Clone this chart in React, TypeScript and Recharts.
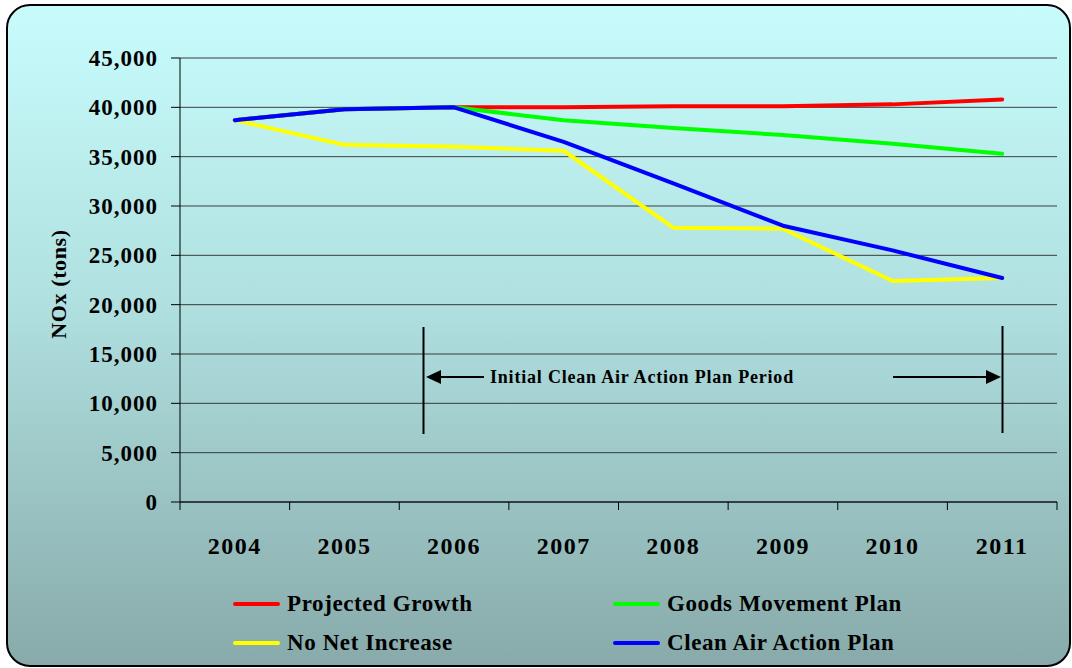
import React from "react";
import { LineChart, Line, XAxis, YAxis, CartesianGrid, Legend } from "recharts";

const years = ["2004", "2005", "2006", "2007", "2008", "2009", "2010", "2011"];
const projectedGrowth = [38700, 39800, 40000, 40000, 40100, 40100, 40300, 40800];
const goodsMovement = [38700, 39800, 40000, 38700, 37900, 37200, 36300, 35300];
const noNetIncrease = [38700, 36200, 36000, 35600, 27800, 27700, 22400, 22700];
const cleanAirAction = [38700, 39800, 40000, 36500, 32300, 28000, 25500, 22700];
const yTicks = [0, 5000, 10000, 15000, 20000, 25000, 30000, 35000, 40000, 45000];

const seriesList = [
  { key: "pg", name: "Projected Growth", color: "#FF0000" },
  { key: "gm", name: "Goods Movement Plan", color: "#00FF00" },
  { key: "nni", name: "No Net Increase", color: "#FFFF00" },
  { key: "caap", name: "Clean Air Action Plan", color: "#0000FF" },
];

const rows = years.map((y, i) => ({
  year: y,
  pg: projectedGrowth[i],
  gm: goodsMovement[i],
  nni: noNetIncrease[i],
  caap: cleanAirAction[i],
}));

const FONT = "'Liberation Serif', 'DejaVu Serif', serif";
const W = 1072;
const H = 668;
// plot area
const PLOT_LEFT = 180;
const PLOT_RIGHT = 1057;
const PLOT_TOP = 58;
const PLOT_BOTTOM = 502;
const BAND = (PLOT_RIGHT - PLOT_LEFT) / years.length;

const fmt = (v: number) => v.toLocaleString("en-US");

// category ticks: label at the center, tick marks between categories
const XTick = (props: any) => {
  const { x, payload, index } = props;
  return (
    <g>
      <line x1={x - BAND / 2} x2={x - BAND / 2} y1={PLOT_BOTTOM} y2={PLOT_BOTTOM + 8} stroke="#000" />
      {index === years.length - 1 && (
        <line x1={x + BAND / 2} x2={x + BAND / 2} y1={PLOT_BOTTOM} y2={PLOT_BOTTOM + 8} stroke="#000" />
      )}
      <text
        x={x}
        y={PLOT_BOTTOM + 52}
        textAnchor="middle"
        fontSize={24}
        letterSpacing={1.5}
        fontWeight="bold"
        fontFamily={FONT}
        fill="#000"
      >
        {payload.value}
      </text>
    </g>
  );
};

// keep the series order (Excel style), not alphabetical
const renderLegend = (props: any) => {
  const { payload } = props;
  const ordered = seriesList
    .map((s) => payload.find((p: any) => p.value === s.name))
    .filter(Boolean);
  return (
    <div style={{ display: "grid", gridTemplateColumns: "380px 380px", rowGap: 13, fontFamily: FONT }}>
      {ordered.map((p: any) => (
        <div key={p.value} style={{ display: "flex", alignItems: "center", height: 26 }}>
          <span style={{ display: "inline-block", width: 47, height: 4, borderRadius: 2, background: p.color, marginRight: 7 }} />
          <span style={{ fontSize: 23, letterSpacing: 0.6, fontWeight: "bold", color: "#000" }}>{p.value}</span>
        </div>
      ))}
    </div>
  );
};

export default function App() {
  return (
    <div style={{ position: "absolute", left: 0, top: 0, width: W, height: H, background: "#fff" }}>
      <div
        style={{
          position: "absolute",
          left: 6,
          top: 4,
          width: 1061,
          height: 659,
          border: "2px solid #000",
          borderRadius: 24,
          background: "linear-gradient(to bottom, #C8FCFC 0%, #B0E0E0 45%, #88AAAA 100%)",
        }}
      />
      <div style={{ position: "absolute", left: 0, top: 0 }}>
        <LineChart
          width={W}
          height={H}
          data={rows}
          margin={{ top: PLOT_TOP, right: W - PLOT_RIGHT, bottom: H - PLOT_BOTTOM - 60, left: PLOT_LEFT - 80 }}
        >
          <CartesianGrid vertical={false} stroke="#222" strokeOpacity={0.85} />
          <XAxis
            dataKey="year"
            scale="band"
            height={60}
            axisLine={{ stroke: "#000" }}
            tickLine={false}
            tick={<XTick />}
            interval={0}
          />
          <YAxis
            width={80}
            domain={[0, 45000]}
            ticks={yTicks}
            tickFormatter={fmt}
            axisLine={{ stroke: "#000" }}
            tickLine={{ stroke: "#000" }}
            tickSize={9}
            tickMargin={13}
            tick={{ fill: "#000", fontSize: 23, letterSpacing: 1, fontWeight: "bold", fontFamily: FONT }}
            label={{
              content: () => (
                <text
                  x={58}
                  y={284}
                  transform="rotate(-90 58 284)"
                  textAnchor="middle"
                  dominantBaseline="central"
                  fontSize={22}
                  letterSpacing={0.6}
                  fontWeight="bold"
                  fontFamily={FONT}
                  fill="#000"
                >
                  NOx (tons)
                </text>
              ),
            }}
          />
          {seriesList.map((s) => (
            <Line
              key={s.key}
              dataKey={s.key}
              name={s.name}
              stroke={s.color}
              strokeWidth={4}
              strokeLinecap="round"
              strokeLinejoin="round"
              dot={false}
              type="linear"
              isAnimationActive={false}
            />
          ))}
          <Legend
            layout="horizontal"
            verticalAlign="middle"
            align="center"
            content={renderLegend}
            wrapperStyle={{ left: 233, top: 591, width: 760, height: 70 }}
          />
        </LineChart>
      </div>
      {/* plan period annotation */}
      <svg width={W} height={H} style={{ position: "absolute", left: 0, top: 0, pointerEvents: "none" }}>
        <line x1={423.5} x2={423.5} y1={327} y2={434} stroke="#000" strokeWidth={2} />
        <line x1={1002.5} x2={1002.5} y1={326} y2={433} stroke="#000" strokeWidth={2} />
        <line x1={440} x2={484} y1={377} y2={377} stroke="#000" strokeWidth={2} />
        <polygon points="426,377 441,370 441,384" fill="#000" />
        <line x1={893} x2={988} y1={377} y2={377} stroke="#000" strokeWidth={2} />
        <polygon points="1001,377 986,370 986,384" fill="#000" />
        <text x={490} y={383} fontSize={18} letterSpacing={0.8} fontWeight="bold" fontFamily={FONT} fill="#000">
          Initial Clean Air Action Plan Period
        </text>
      </svg>
    </div>
  );
}
